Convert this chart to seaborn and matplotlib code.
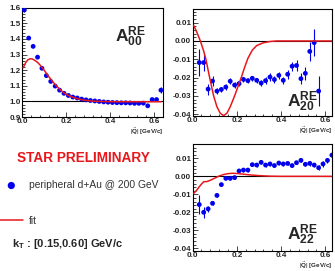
import matplotlib
matplotlib.use("Agg")
import matplotlib.pyplot as plt
import seaborn as sns
import pandas as pd
from matplotlib.ticker import MultipleLocator, FormatStrFormatter

# ---- data ----
# A00 (top left)
q00 = [0.01, 0.03, 0.05, 0.07, 0.09, 0.11, 0.13, 0.15, 0.17, 0.19, 0.21,
       0.23, 0.25, 0.27, 0.29, 0.31, 0.33, 0.35, 0.37, 0.39, 0.41, 0.43,
       0.45, 0.47, 0.49, 0.51, 0.53, 0.55, 0.57, 0.59, 0.61, 0.63]
a00 = [1.585, 1.405, 1.352, 1.283, 1.212, 1.165, 1.128, 1.098, 1.072, 1.052,
       1.038, 1.028, 1.022, 1.015, 1.010, 1.006, 1.003, 1.000, 0.997, 0.995,
       0.993, 0.992, 0.991, 0.991, 0.990, 0.988, 0.988, 0.989, 0.972, 1.012,
       1.012, 1.072]
e00 = [0.015, 0.004, 0.004, 0.003, 0.003, 0.003, 0.003, 0.002, 0.002, 0.002,
       0.002, 0.002, 0.002, 0.002, 0.002, 0.002, 0.002, 0.002, 0.002, 0.002,
       0.002, 0.002, 0.002, 0.002, 0.002, 0.002, 0.003, 0.003, 0.004, 0.005,
       0.006, 0.02]
fq00 = [0.005, 0.015, 0.025, 0.035, 0.045, 0.055, 0.07, 0.08, 0.09, 0.10,
        0.12, 0.14, 0.15, 0.16, 0.18, 0.20, 0.22, 0.25, 0.28, 0.32, 0.38,
        0.45, 0.55, 0.63]
fa00 = [1.215, 1.245, 1.265, 1.272, 1.272, 1.265, 1.25, 1.235, 1.218, 1.20,
        1.16, 1.125, 1.108, 1.093, 1.066, 1.046, 1.032, 1.018, 1.008, 1.002,
        0.999, 0.998, 0.998, 0.998]

# A20 (top right)
q20 = [0.03, 0.05, 0.07, 0.09, 0.11, 0.13, 0.15, 0.17, 0.19, 0.21, 0.23,
       0.25, 0.27, 0.29, 0.31, 0.33, 0.35, 0.37, 0.39, 0.41, 0.43, 0.45,
       0.47, 0.49, 0.51, 0.53, 0.55, 0.57]
a20 = [-0.0118, -0.0118, -0.0263, -0.0219, -0.0274, -0.0265, -0.0252, -0.0220,
       -0.0241, -0.0233, -0.0210, -0.0217, -0.0204, -0.0215, -0.0230, -0.0217,
       -0.0197, -0.0211, -0.0188, -0.0215, -0.0182, -0.0138, -0.0134, -0.0206,
       -0.0177, -0.0057, -0.0009, -0.0274]
e20 = [0.0073, 0.0045, 0.003, 0.0025, 0.0015, 0.0015, 0.0015, 0.0015, 0.0015,
       0.0015, 0.0015, 0.0015, 0.0015, 0.0015, 0.0015, 0.002, 0.002, 0.002,
       0.002, 0.002, 0.0025, 0.0025, 0.003, 0.003, 0.0035, 0.005, 0.0072,
       0.0083]
fq20 = [0.005, 0.02, 0.035, 0.05, 0.06, 0.077, 0.095, 0.11, 0.125, 0.14,
        0.155, 0.17, 0.19, 0.205, 0.22, 0.235, 0.25, 0.27, 0.29, 0.32, 0.35,
        0.38, 0.63]
fa20 = [0.0085, 0.0045, 0.0, -0.0055, -0.01, -0.02, -0.03, -0.036, -0.0395,
        -0.0408, -0.0395, -0.036, -0.03, -0.025, -0.02, -0.0145, -0.0095,
        -0.005, -0.0025, -0.001, -0.0003, 0.0, 0.0]

# A22 (bottom right)
q22 = [0.03, 0.05, 0.07, 0.09, 0.11, 0.13, 0.15, 0.17, 0.19, 0.21, 0.23,
       0.25, 0.27, 0.29, 0.31, 0.33, 0.35, 0.37, 0.39, 0.41, 0.43, 0.45,
       0.47, 0.49, 0.51, 0.53, 0.55, 0.57, 0.59, 0.61, 0.63]
a22 = [-0.0157, -0.0200, -0.0181, -0.0150, -0.0106, -0.0046, -0.0011, -0.0011,
       -0.0007, 0.0030, 0.0035, 0.0035, 0.0065, 0.0063, 0.0078, 0.0063, 0.0069,
       0.0060, 0.0074, 0.0069, 0.0072, 0.0060, 0.0076, 0.0089, 0.0067, 0.0072,
       0.0063, 0.0048, 0.0069, 0.0089, 0.0118]
e22 = [0.0055, 0.003, 0.0018, 0.0012, 0.001, 0.001, 0.001, 0.001, 0.001,
       0.001, 0.001, 0.001, 0.001, 0.001, 0.001, 0.001, 0.001, 0.001, 0.001,
       0.001, 0.001, 0.001, 0.001, 0.001, 0.0012, 0.0012, 0.0012, 0.0015,
       0.0015, 0.0015, 0.002]
fq22 = [0.005, 0.02, 0.035, 0.05, 0.065, 0.08, 0.10, 0.12, 0.14, 0.16, 0.18,
        0.20, 0.23, 0.26, 0.30, 0.35, 0.40, 0.63]
fa22 = [-0.0095, -0.0075, -0.005, -0.003, -0.0029, -0.0022, -0.001, 0.0002,
        0.001, 0.0015, 0.0017, 0.0016, 0.0012, 0.0008, 0.0004, 0.0001, 0.0,
        0.0]

labels = [r"$\mathbf{A^{RE}_{00}}$", r"$\mathbf{A^{RE}_{20}}$", r"$\mathbf{A^{RE}_{22}}$"]

sns.set_theme(style="white")
plt.rcParams["font.family"] = ["Liberation Sans", "DejaVu Sans"]
plt.rcParams["mathtext.fontset"] = "custom"
plt.rcParams["mathtext.rm"] = "Liberation Sans"
plt.rcParams["mathtext.it"] = "Liberation Sans:italic"
plt.rcParams["mathtext.bf"] = "Liberation Sans:bold"

BLUE = "#0000ee"
RED = "#e8171c"

fig = plt.figure(figsize=(3.35, 2.71), dpi=100)
ax1 = fig.add_axes([0.066, 0.568, 0.421, 0.404])
ax2 = fig.add_axes([0.575, 0.572, 0.417, 0.395])
ax3 = fig.add_axes([0.575, 0.074, 0.417, 0.394])

panels = [
    (ax1, q00, a00, e00, fq00, fa00, (0, 0.64), (0.9, 1.6), 1.0, 0.1, 0.02, "%.1f", (0.66, 0.62)),
    (ax2, q20, a20, e20, fq20, fa20, (0, 0.632), (-0.041, 0.0175), 0.0, 0.01, 0.002, "%.2f", (0.675, 0.02)),
    (ax3, q22, a22, e22, fq22, fa22, (0, 0.632), (-0.0415, 0.0179), 0.0, 0.01, 0.002, "%.2f", (0.675, 0.035)),
]

for i, (ax, q, a, e, fq, fa, xl, yl, ref, ymaj, ymin, fmt, lpos) in enumerate(panels):
    df = pd.DataFrame({"q": q, "a": a, "e": e})
    fit = pd.DataFrame({"q": fq, "a": fa})
    ax.axhline(ref, color="black", lw=0.8, zorder=1)
    ax.errorbar(df["q"], df["a"], yerr=df["e"], fmt="none", ecolor=BLUE,
                elinewidth=0.8, zorder=2)
    sns.scatterplot(data=df, x="q", y="a", ax=ax, color=BLUE, s=12,
                    edgecolor="none", zorder=3, clip_on=True,
                    label="peripheral d+Au @ 200 GeV" if i == 0 else None)
    sns.lineplot(data=fit, x="q", y="a", ax=ax, color=RED, lw=1.1, zorder=4,
                 label="fit" if i == 0 else None)
    ax.set_xlim(*xl)
    ax.set_ylim(*yl)
    ax.xaxis.set_major_locator(MultipleLocator(0.2))
    ax.xaxis.set_minor_locator(MultipleLocator(0.04))
    ax.yaxis.set_major_locator(MultipleLocator(ymaj))
    ax.yaxis.set_minor_locator(MultipleLocator(ymin))
    ax.xaxis.set_major_formatter(FormatStrFormatter("%.1f"))
    ax.yaxis.set_major_formatter(FormatStrFormatter(fmt))
    ax.tick_params(which="both", direction="in", bottom=True, left=True,
                   top=False, right=False, labelsize=5.8, pad=1.0, width=0.6)
    ax.tick_params(which="major", length=3.5)
    ax.tick_params(which="minor", length=1.8)
    for lab in ax.get_xticklabels() + ax.get_yticklabels():
        lab.set_fontweight("bold")
    for sp in ax.spines.values():
        sp.set_linewidth(0.8)
        sp.set_color("black")
    ax.set_xlabel(r"$|\vec{\mathbf{Q}}|$ [GeV/c]", fontsize=4.5, fontweight="bold",
                  loc="right", labelpad=0.3)
    ax.set_ylabel("")
    ax.text(lpos[0], lpos[1], labels[i], transform=ax.transAxes, fontsize=12.5,
            ha="left", va="bottom")
    if ax.get_legend() is not None:
        handles, texts = ax.get_legend_handles_labels()
        ax.get_legend().remove()

leg = fig.legend(handles, texts, loc="upper left", bbox_to_anchor=(0.0, 0.335),
                 frameon=False, fontsize=7.4, handlelength=2.2, handletextpad=0.6,
                 labelspacing=2.5, borderpad=0, borderaxespad=0, markerscale=1.5)
for t in leg.get_texts():
    t.set_color("#333333")

fig.text(0.248, 0.417, "STAR PRELIMINARY", color=RED, fontsize=9.8,
         fontweight="bold", ha="center", va="center")
fig.text(0.036, 0.099, r"$\mathbf{k_T}$ : [0.15,0.60] GeV/c", fontsize=8,
         fontweight="bold", ha="left", va="center")

fig.savefig("out.png", dpi=100)
